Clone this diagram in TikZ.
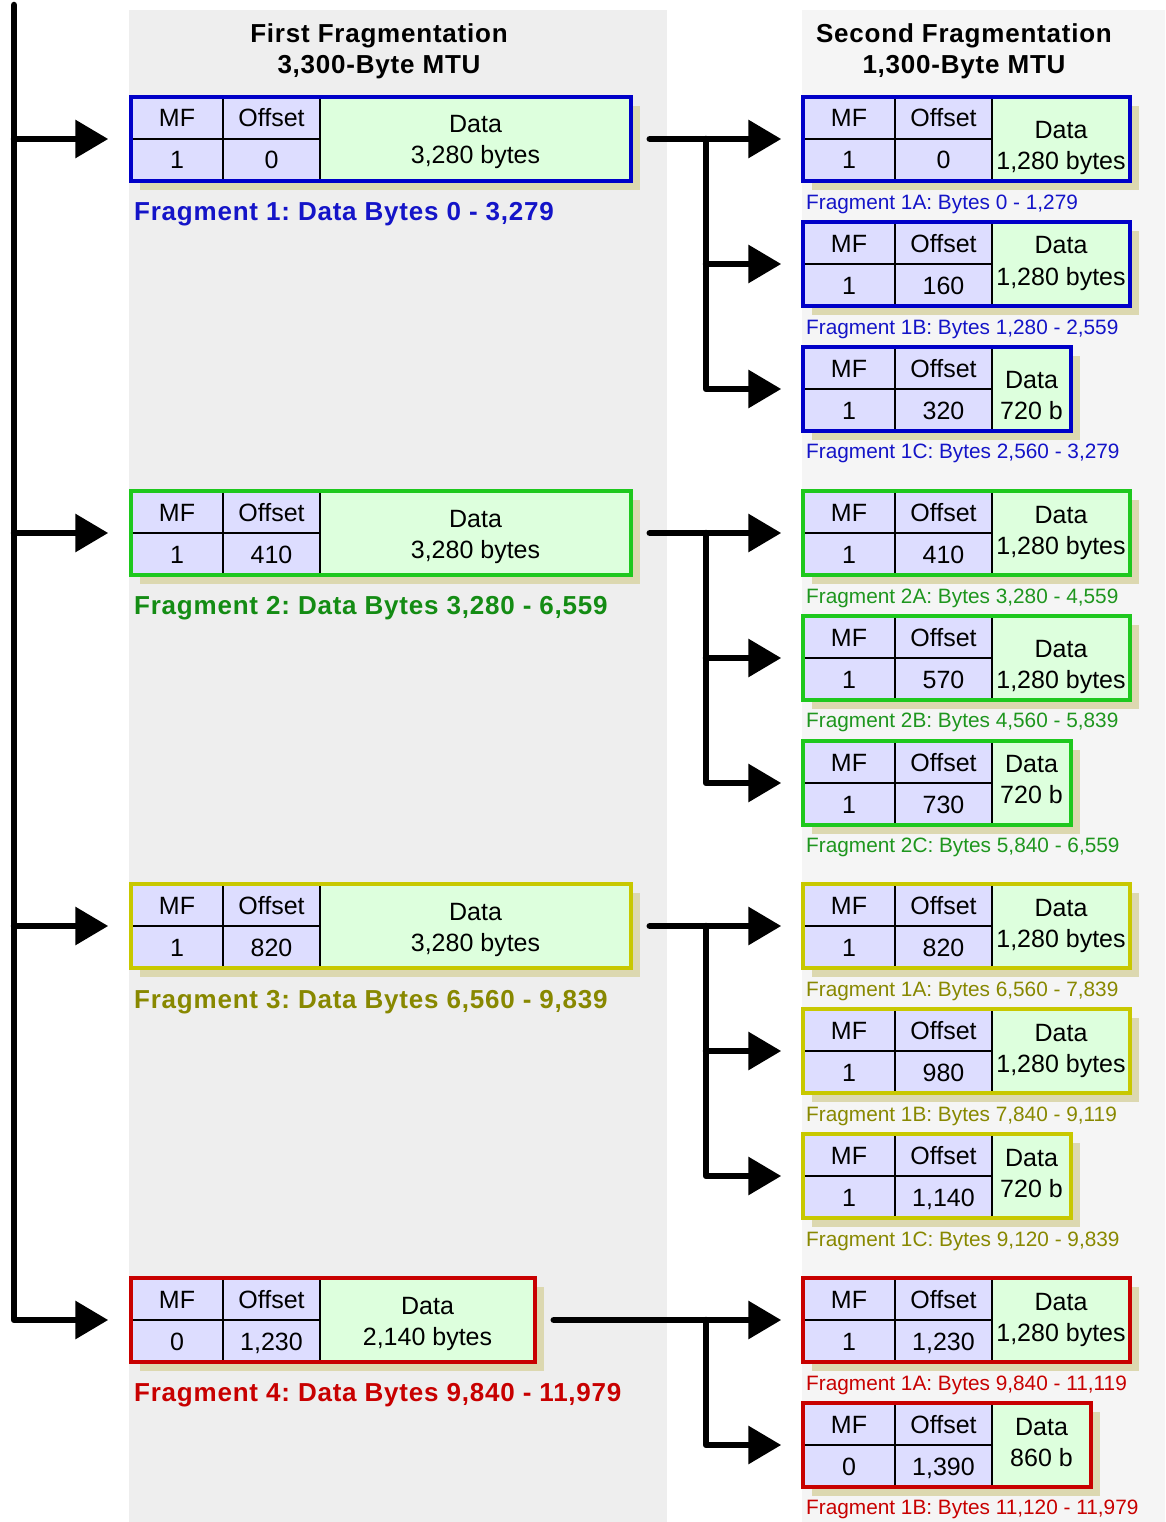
\documentclass[tikz,border=0pt]{standalone}
\usepackage{fontspec}
\setmainfont{Liberation Sans}
\newfontfamily\sbf{Liberation Sans}[LetterSpace=3]
\usetikzlibrary{arrows.meta}
\frenchspacing
\definecolor{panelL}{RGB}{238,238,238}
\definecolor{panelR}{RGB}{245,245,245}
\definecolor{hdr}{RGB}{221,221,255}
\definecolor{dat}{RGB}{221,255,221}
\definecolor{shd}{RGB}{220,216,176}
\definecolor{cBlue}{RGB}{0,0,200}
\definecolor{tBlue}{RGB}{20,20,200}
\definecolor{cGreen}{RGB}{30,200,30}
\definecolor{tGreen}{RGB}{20,140,20}
\definecolor{tGreenS}{RGB}{30,150,30}
\definecolor{cYel}{RGB}{200,200,0}
\definecolor{tYel}{RGB}{136,136,0}
\definecolor{cRed}{RGB}{200,0,0}
\tikzset{
  cell/.style={line width=1.5pt, black},
  pbox/.style={draw, line width=3.5pt, inner sep=0pt, minimum height=84pt},
  ctext/.style={anchor=base, inner sep=0pt, font=\fontsize{25}{30}\selectfont},
  bigl/.style={anchor=base west, inner sep=0pt, font=\sbf\bfseries\fontsize{26}{31}\selectfont},
  smalll/.style={anchor=base west, inner sep=0pt, font=\fontsize{20.8}{25}\selectfont},
  ttl/.style={anchor=base, inner sep=0pt, font=\sbf\bfseries\fontsize{26}{31}\selectfont},
  conn/.style={line width=6.5pt, line cap=round, line join=round},
  arr/.style={conn, -{Triangle[length=33pt,width=37pt]}},
}
% name, x, y, W, colour, MF, Offset, data line 2, dy
\newcommand{\pkt}[9]{%
  \fill[shd] ({#2+9},{#3+9}) rectangle ({#2+#4+9},{#3+93});
  \fill[hdr] (#2,#3) rectangle ({#2+189},{#3+84});
  \fill[dat] ({#2+189},#3) rectangle ({#2+#4},{#3+84});
  \draw[cell] ({#2+92},#3) -- ({#2+92},{#3+84})
              ({#2+189},#3) -- ({#2+189},{#3+84})
              (#2,{#3+42}) -- ({#2+189},{#3+42});
  \node[pbox, draw=#5, minimum width=#4pt] (#1) at ({#2+#4/2},{#3+42}) {};
  \node[ctext] (#1-mfh) at ({#2+46},{#3+30}) {MF};
  \node[ctext] (#1-offh) at ({#2+140.5},{#3+30}) {Offset};
  \node[ctext] (#1-mf) at ({#2+46},{#3+72}) {#6};
  \node[ctext] (#1-off) at ({#2+140.5},{#3+72}) {#7};
  \node[ctext] (#1-dh) at ({#2+189+(#4-189)/2},{#3+#9+9}) {Data};
  \node[ctext] (#1-d) at ({#2+189+(#4-189)/2},{#3+#9+40}) {#8};
}
\begin{document}
\begin{tikzpicture}[x=1pt,y=-1pt]
\useasboundingbox (0,0) rectangle (1165,1522);
\fill[white] (0,0) rectangle (1165,1522);
\fill[panelL] (129,10) rectangle (667,1522);
\fill[panelR] (802,10) rectangle (1165,1522);

\node[ttl] (t1a) at (379,42.3) {First Fragmentation};
\node[ttl] (t1b) at (379,73.3) {3,300-Byte MTU};
\node[ttl] (t2a) at (964,42.3) {Second Fragmentation};
\node[ttl] (t2b) at (964,73.3) {1,300-Byte MTU};

% first fragmentation
\pkt{f1}{131}{97}{500}{cBlue}{1}{0}{3,280 bytes}{27}
\pkt{f2}{131}{491}{500}{cGreen}{1}{410}{3,280 bytes}{27}
\pkt{f3}{131}{884}{500}{cYel}{1}{820}{3,280 bytes}{27}
\pkt{f4}{131}{1278}{404}{cRed}{0}{1,230}{2,140 bytes}{27}
\node[bigl, text=tBlue] (l1) at (134,220.3) {Fragment 1: Data Bytes 0 - 3,279};
\node[bigl, text=tGreen] (l2) at (134,614.3) {Fragment 2: Data Bytes 3,280 - 6,559};
\node[bigl, text=tYel] (l3) at (134,1008.3) {Fragment 3: Data Bytes 6,560 - 9,839};
\node[bigl, text=cRed] (l4) at (134,1401.3) {Fragment 4: Data Bytes 9,840 - 11,979};

% second fragmentation
\pkt{f1a}{803}{97}{327}{cBlue}{1}{0}{1,280 bytes}{33}
\pkt{f1b}{803}{222}{327}{cBlue}{1}{160}{1,280 bytes}{23}
\pkt{f1c}{803}{347}{268}{cBlue}{1}{320}{720 b}{32}
\pkt{f2a}{803}{491}{327}{cGreen}{1}{410}{1,280 bytes}{23}
\pkt{f2b}{803}{616}{327}{cGreen}{1}{570}{1,280 bytes}{32}
\pkt{f2c}{803}{741}{268}{cGreen}{1}{730}{720 b}{22}
\pkt{f3a}{803}{884}{327}{cYel}{1}{820}{1,280 bytes}{23}
\pkt{f3b}{803}{1009}{327}{cYel}{1}{980}{1,280 bytes}{23}
\pkt{f3c}{803}{1134}{268}{cYel}{1}{1,140}{720 b}{23}
\pkt{f4a}{803}{1278}{327}{cRed}{1}{1,230}{1,280 bytes}{23}
\pkt{f4b}{803}{1403}{288}{cRed}{0}{1,390}{860 b}{23}

\node[smalll, text=tBlue] (l1a) at (806,209.5) {Fragment 1A: Bytes 0 - 1,279};
\node[smalll, text=tBlue] (l1b) at (806,334.5) {Fragment 1B: Bytes 1,280 - 2,559};
\node[smalll, text=tBlue] (l1c) at (806,458.5) {Fragment 1C: Bytes 2,560 - 3,279};
\node[smalll, text=tGreenS] (l2a) at (806,603.5) {Fragment 2A: Bytes 3,280 - 4,559};
\node[smalll, text=tGreenS] (l2b) at (806,727.5) {Fragment 2B: Bytes 4,560 - 5,839};
\node[smalll, text=tGreenS] (l2c) at (806,852.5) {Fragment 2C: Bytes 5,840 - 6,559};
\node[smalll, text=tYel] (l3a) at (806,996.5) {Fragment 1A: Bytes 6,560 - 7,839};
\node[smalll, text=tYel] (l3b) at (806,1121.5) {Fragment 1B: Bytes 7,840 - 9,119};
\node[smalll, text=tYel] (l3c) at (806,1246.5) {Fragment 1C: Bytes 9,120 - 9,839};
\node[smalll, text=cRed] (l4a) at (806,1390.5) {Fragment 1A: Bytes 9,840 - 11,119};
\node[smalll, text=cRed] (l4b) at (806,1514.5) {Fragment 1B: Bytes 11,120 - 11,979};

% connectors
\coordinate (sptop) at (14,5);
\coordinate (sp) at (14,0);
\coordinate (bx) at (706,0);
\draw[arr] (sptop) -- (f4.west -| sp) -- ([xshift=-21pt]f4.west);
\foreach \n in {f1,f2,f3}{
  \draw[arr] (\n.west -| sp) -- ([xshift=-21pt]\n.west);
}
\foreach \p/\a/\b/\c in {f1/f1a/f1b/f1c, f2/f2a/f2b/f2c, f3/f3a/f3b/f3c}{
  \draw[arr] ([xshift=17pt]\p.east) -- ([xshift=-20pt]\a.west);
  \draw[arr] (\a.west -| bx) -- (\c.west -| bx) -- ([xshift=-20pt]\c.west);
  \draw[arr] (\b.west -| bx) -- ([xshift=-20pt]\b.west);
}
\draw[arr] ([xshift=17pt]f4.east) -- ([xshift=-20pt]f4a.west);
\draw[arr] (f4a.west -| bx) -- (f4b.west -| bx) -- ([xshift=-20pt]f4b.west);
\end{tikzpicture}
\end{document}
